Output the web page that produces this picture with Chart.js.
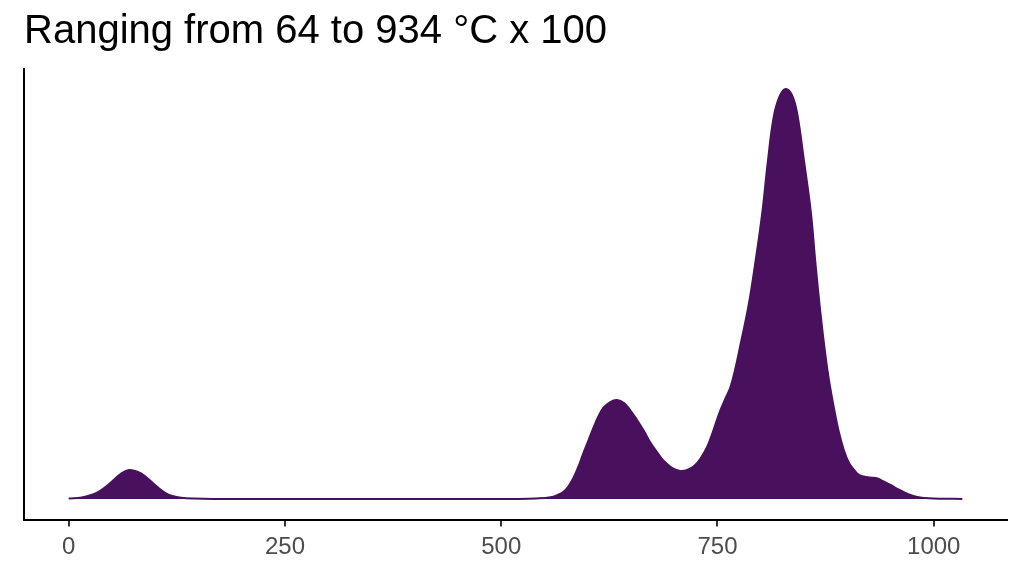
<!DOCTYPE html>
<html>
<head>
<meta charset="utf-8">
<script src="https://cdn.jsdelivr.net/npm/chart.js@4.4.0/dist/chart.umd.min.js"></script>
<style>
  html, body { margin: 0; padding: 0; background: #fff; }
  #wrap { width: 1024px; height: 576px; }
</style>
</head>
<body>
<div id="wrap"><canvas id="grafico"></canvas></div>
<script>
const titulo = 'Ranging from 64 to 934 °C x 100';

// density curve (x in °C/100 units, y = relative density)
const temperatura = [
  0, 15, 28, 36, 44, 52, 60, 70, 80, 88, 96, 104, 112, 120, 130, 145, 170, 250, 350, 450, 520,
  540, 557, 565, 572, 578, 584, 590, 595, 601, 607, 612, 618, 626, 634, 642, 649, 657, 665,
  672, 680, 688, 696, 701, 707, 715, 723, 730, 738, 745, 753, 760, 765, 770, 777, 786, 794,
  802, 808, 815, 822, 829, 836, 842, 850, 858, 863, 869, 875, 879, 885, 890, 896, 902, 908,
  913, 919, 927, 935, 942, 950, 958, 966, 973, 981, 990, 1000, 1015, 1033
];
const densidade = [
  0.5, 1.5, 4.5, 8, 13, 19, 25, 29, 27, 23, 17, 11, 6, 3, 1.2, 0.4, 0.1, 0.05, 0.05, 0.05, 0.1,
  0.5, 1.7, 4, 7.3, 13, 22, 34, 46, 59, 72, 82, 91, 97, 99, 96, 89, 79, 68,
  57, 47, 38, 32, 29.5, 28, 29, 33, 40, 52, 68, 88, 102, 112, 128, 156, 194, 238,
  288, 336, 382, 403, 410, 404, 386, 338, 286, 238, 186, 142, 118, 89, 68, 49, 36, 29,
  24.5, 22.5, 21.5, 20.5, 17.5, 14, 10, 6.6, 4, 2, 1, 0.5, 0.2, 0.1
];
const xTicks = [0, 250, 500, 750, 1000];

const corPreenchimento = '#49105E';

const pontos = temperatura.map((t, i) => ({ x: t, y: densidade[i] }));

const xMin = 0, xMax = 1033;
const yMax = Math.max(...densidade);
const xPad = (xMax - xMin) * 0.05;
const yPad = yMax * 0.05;

new Chart(document.getElementById('grafico'), {
  type: 'line',
  data: {
    datasets: [{
      data: pontos,
      borderColor: corPreenchimento,
      backgroundColor: corPreenchimento,
      borderWidth: 2,
      fill: 'origin',
      pointRadius: 0,
      tension: 0.4
    }]
  },
  options: {
    responsive: true,
    maintainAspectRatio: false,
    animation: false,
    layout: { padding: { left: 24, right: 17, top: 0, bottom: 0 } },
    plugins: {
      legend: { display: false },
      tooltip: { enabled: false },
      title: {
        display: true,
        text: titulo,
        align: 'start',
        color: '#000',
        font: { family: 'Liberation Sans', size: 40, weight: 'normal' },
        padding: { top: 8, bottom: 12.5 }
      }
    },
    scales: {
      x: {
        type: 'linear',
        min: xMin - xPad,
        max: xMax + xPad,
        afterBuildTicks: s => { s.ticks = xTicks.map(v => ({ value: v })); },
        afterFit: s => { s.height = 56.5; },
        grid: { drawOnChartArea: false, drawTicks: true, tickLength: 7, color: '#333', lineWidth: 2 },
        border: { display: true, color: '#000', width: 2 },
        ticks: {
          color: '#4D4D4D',
          padding: 6,
          maxRotation: 0,
          font: { family: 'Liberation Sans', size: 24 },
          callback: v => String(v)
        }
      },
      y: {
        min: -yPad,
        max: yMax + yPad,
        afterFit: s => { s.width = 0; },
        grid: { display: false, drawTicks: false },
        border: { display: true, color: '#000', width: 2 },
        ticks: { display: false }
      }
    }
  }
});
</script>
</body>
</html>
